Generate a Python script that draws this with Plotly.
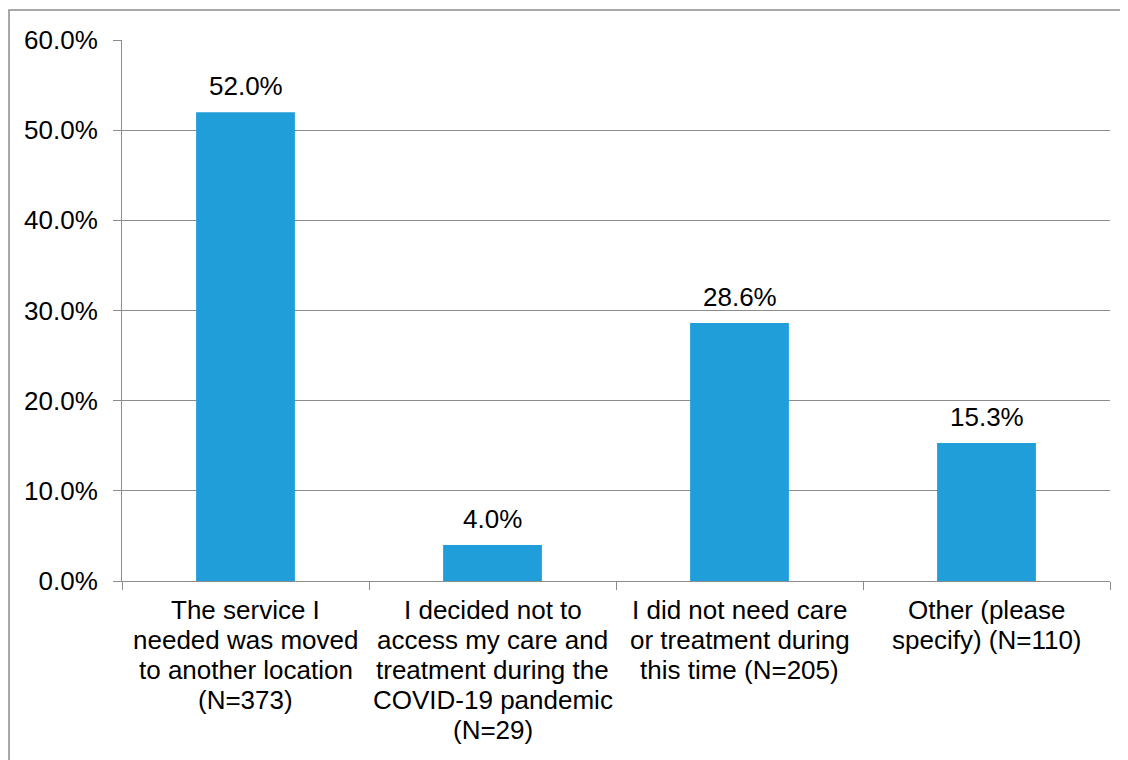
import plotly.graph_objects as go

categories = ["cat1", "cat2", "cat3", "cat4"]
category_lines = [
    ["The service I", "needed was moved", "to another location", "(N=373)"],
    ["I decided not to", "access my care and", "treatment during the", "COVID-19 pandemic", "(N=29)"],
    ["I did not need care", "or treatment during", "this time (N=205)"],
    ["Other (please", "specify) (N=110)"],
]
values = [52.0, 4.0, 28.6, 15.3]
value_labels = ["52.0%", "4.0%", "28.6%", "15.3%"]

FONT = "Arial, Liberation Sans, sans-serif"
FS = 26
GRID = "#8c8c8c"

fig = go.Figure(go.Bar(x=categories, y=values, marker=dict(color="#1F9ED9", line=dict(width=0)),
                       hoverinfo="skip"))

annotations = []
for c, v, t in zip(categories, values, value_labels):
    annotations.append(dict(x=c, y=v, xref="x", yref="y", text=t, showarrow=False,
                            yanchor="bottom", yshift=9, font=dict(family=FONT, size=FS, color="#000")))
for c, lines in zip(categories, category_lines):
    for j, ln in enumerate(lines):
        annotations.append(dict(x=c, y=0, xref="x", yref="y", text=ln, showarrow=False,
                                yanchor="top", yshift=-12 - 30 * j,
                                font=dict(family=FONT, size=FS, color="#000")))

# page body has an 8px margin, so the figure starts at (8, 8)
W, H = 1120, 752
L, T, R, B = 114, 32, 18, 179
plot_w = W - L - R
plot_h = H - T - B

fig.update_layout(
    width=W, height=H,
    margin=dict(l=L, r=R, t=T, b=B),
    paper_bgcolor="white", plot_bgcolor="white",
    bargap=0.6, showlegend=False,
    font=dict(family=FONT, size=FS, color="#000"),
    annotations=annotations,
    shapes=[dict(type="rect", xref="paper", yref="paper",
                 x0=(1 - L) / plot_w, x1=1.2, y0=-0.5, y1=(plot_h + T - 2) / plot_h,
                 line=dict(color="#8c8c8c", width=1.5), layer="above")],
)
fig.update_yaxes(range=[0, 60], dtick=10, tickformat=".1f", ticksuffix="%",
                 showgrid=True, gridcolor=GRID, gridwidth=1,
                 showline=True, linecolor=GRID, linewidth=1,
                 ticks="outside", ticklen=8, tickcolor=GRID,
                 ticklabelstandoff=10, zeroline=False,
                 tickfont=dict(family=FONT, size=FS, color="#000"))
fig.update_xaxes(showticklabels=False, ticks="outside", tickson="boundaries", ticklen=8,
                 tickcolor=GRID, showline=True, linecolor=GRID, linewidth=1, showgrid=False)

fig.write_html("out.html")
